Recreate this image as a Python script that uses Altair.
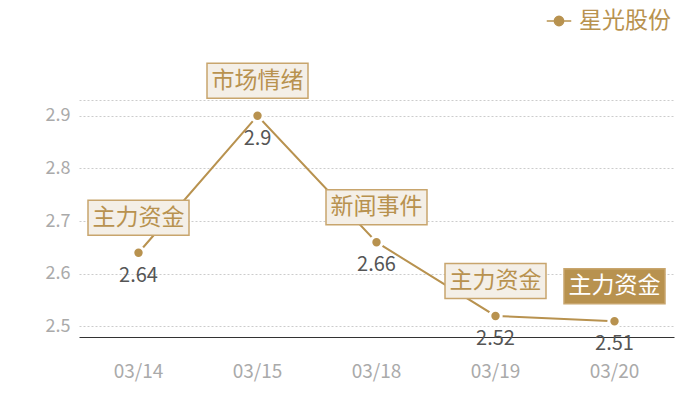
import altair as alt
import pandas as pd

dates = ["03/14", "03/15", "03/18", "03/19", "03/20"]
values = [2.64, 2.9, 2.66, 2.52, 2.51]
notes = ["主力资金", "市场情绪", "新闻事件", "主力资金", "主力资金"]
highlight = [False, False, False, False, True]
series_name = "星光股份"
y_ticks = [2.5, 2.6, 2.7, 2.8, 2.9]
y_domain = [2.48, 2.93]

GOLD = "#b8924f"
BOX_FILL = "#f4efe7"
BOX_STROKE = "#c8a56d"
FONT = "Noto Sans CJK SC"

df = pd.DataFrame({
    "date": dates,
    "value": values,
    "note": notes,
    "hl": highlight,
    "series": [series_name] * len(dates),
})

x_enc = alt.X(
    "date:N",
    sort=dates,
    scale=alt.Scale(type="band", paddingInner=0, paddingOuter=0),
    axis=alt.Axis(
        title=None, labelAngle=0, labelColor="#aaaaaa", labelFontSize=19,
        labelPadding=25, ticks=False, domainColor="#333333", domainWidth=1,
        grid=False, labelFont=FONT,
    ),
)
y_enc = alt.Y(
    "value:Q",
    scale=alt.Scale(domain=y_domain, nice=False, zero=False),
    axis=alt.Axis(
        title=None, values=y_ticks + [y_domain[1]],
        labelExpr=f"datum.value > {y_domain[1] - 0.01} ? '' : datum.label",
        labelColor="#aaaaaa", labelFontSize=18, labelPadding=9, ticks=False,
        domain=False, grid=True, gridColor="#cccccc", gridDash=[2, 2],
        gridWidth=1, labelFont=FONT,
    ),
)

base = alt.Chart(df).encode(x=x_enc, y=y_enc)

legend_symbol = ("M-1,0L1,0M-0.38,0A0.38,0.38,0,1,1,0.38,0"
                 "A0.38,0.38,0,1,1,-0.38,0Z")

line = base.mark_line(strokeWidth=2).encode(
    color=alt.Color(
        "series:N",
        scale=alt.Scale(range=[GOLD]),
        legend=alt.Legend(
            title=None, orient="none", legendX=467, legendY=-92,
            symbolType=legend_symbol, symbolSize=600, symbolStrokeWidth=1.5,
            symbolFillColor=GOLD, symbolStrokeColor=GOLD,
            labelFontSize=23, labelColor=GOLD, labelFont=FONT,
            labelOffset=7, padding=0,
        ),
    )
)

points = base.mark_circle(size=130, color=GOLD, opacity=1, stroke="white",
                          strokeWidth=3)

value_labels = base.mark_text(dy=23, fontSize=20, color="#555555",
                              baseline="middle", font=FONT).encode(
    text=alt.Text("value:Q")
)

box_shape = "M-1,-1.04L1,-1.04L1,-0.347L-1,-0.347Z"
boxes = base.mark_point(shape=box_shape, size=10201, filled=True, opacity=1,
                        stroke=BOX_STROKE, strokeWidth=1.5).encode(
    fill=alt.condition("datum.hl", alt.value(GOLD), alt.value(BOX_FILL))
)

box_text = base.mark_text(dy=-35, fontSize=23, baseline="middle",
                          font=FONT).encode(
    text="note:N",
    color=alt.condition("datum.hl", alt.value("white"), alt.value(GOLD)),
)

chart = alt.layer(line, points, boxes, box_text, value_labels).properties(
    width=595,
    height=237,
    autosize=alt.AutoSizeParams(type="none"),
    padding={"left": 71, "top": 92, "right": 16, "bottom": 60},
).configure(font=FONT).configure_view(stroke=None)

chart.save("out.html", embed_options={"renderer": "svg", "actions": False})
